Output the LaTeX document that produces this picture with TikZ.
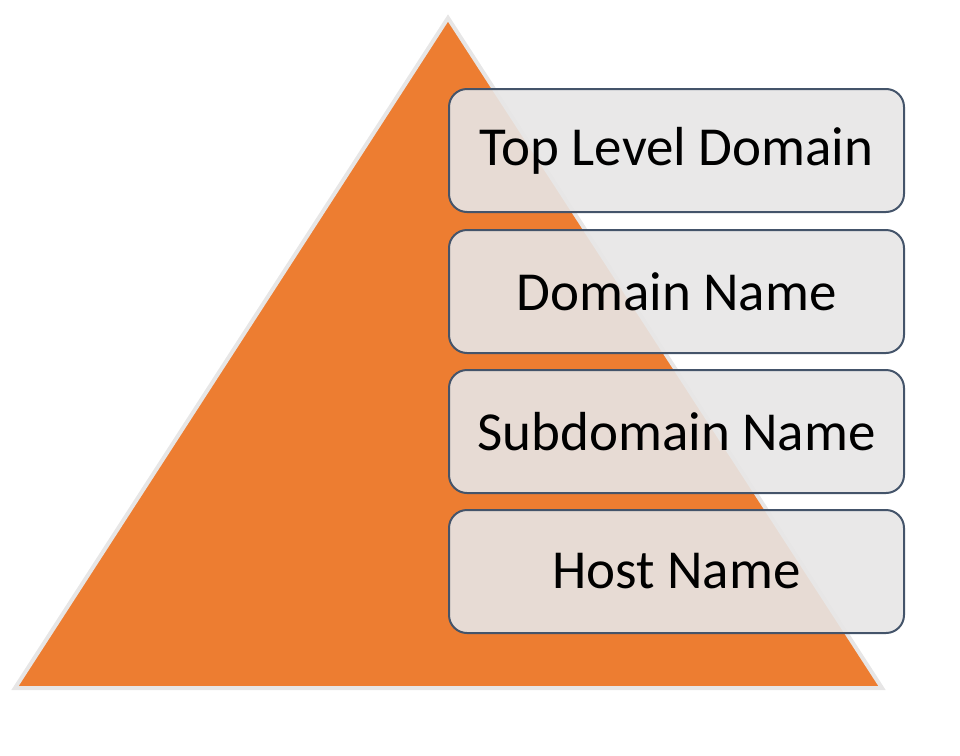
\documentclass[tikz,border=0pt]{standalone}
\usepackage{fontspec}
\setmainfont{Carlito}
\begin{document}
\begin{tikzpicture}[x=1pt,y=-1pt,
  layerbox/.style={draw=boxline,line width=2pt,fill=boxfill,fill opacity=0.9,text opacity=1,rounded corners=18pt,minimum width=455pt,minimum height=123pt,anchor=north west,inner sep=0pt,font=\fontsize{55}{62}\selectfont}]
\definecolor{pyr}{HTML}{ED7D31}
\definecolor{pyredge}{HTML}{E7E6E6}
\definecolor{boxfill}{HTML}{E7E6E6}
\definecolor{boxline}{HTML}{44546A}
\useasboundingbox (0,0) rectangle (960,755);
\fill[pyr,draw=pyredge,line width=4pt,line join=miter] (448,18) -- (882,688) -- (15,688) -- cycle;
\node[layerbox] (tld) at (448,88) {Top Level Domain};
\node[layerbox] (dom) at (448,229) {Domain Name};
\node[layerbox] (sub) at (448,369) {Subdomain Name};
\node[layerbox] (host) at (448,509) {Host Name};
\end{tikzpicture}
\end{document}
